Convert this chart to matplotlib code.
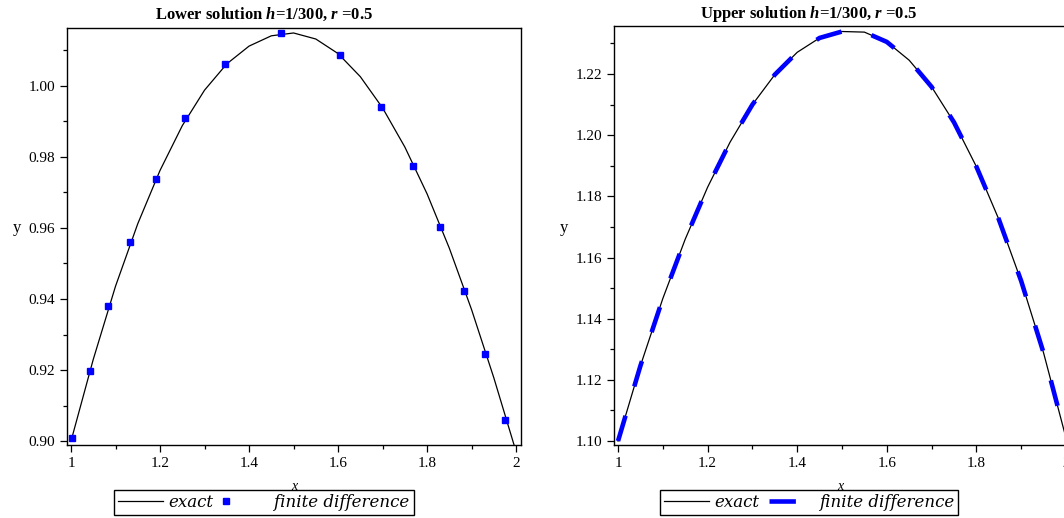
import matplotlib
matplotlib.use('Agg')
import matplotlib.pyplot as plt
from matplotlib.ticker import MultipleLocator, FormatStrFormatter

plt.rcParams['font.family'] = ['Liberation Serif', 'DejaVu Serif']
plt.rcParams['lines.scale_dashes'] = False
plt.rcParams['mathtext.fontset'] = 'custom'
plt.rcParams['mathtext.it'] = 'Liberation Serif:italic:bold'
plt.rcParams['mathtext.rm'] = 'Liberation Serif:bold'

# exact curves, x = 1.00 .. 2.00 step 0.05
x_exact = [1.00, 1.05, 1.10, 1.15, 1.20, 1.25, 1.30, 1.35, 1.40, 1.45, 1.50,
           1.55, 1.60, 1.65, 1.70, 1.75, 1.80, 1.85, 1.90, 1.95, 2.00]
lower_exact = [0.9000, 0.9230, 0.9436, 0.9612, 0.9762, 0.9888, 0.9988, 1.0062,
               1.0112, 1.0141, 1.0149, 1.0132, 1.0091, 1.0026, 0.9938, 0.9828,
               0.9696, 0.9543, 0.9370, 0.9178, 0.8970]
upper_exact = [1.1000, 1.1246, 1.1466, 1.1660, 1.1830, 1.1977, 1.2100, 1.2198,
               1.2271, 1.2318, 1.2339, 1.2337, 1.2305, 1.2245, 1.2158, 1.2042,
               1.1897, 1.1725, 1.1523, 1.1288, 1.1010]

# finite difference, lower solution (sampled points)
x_fd_lower = [1.002, 1.042, 1.084, 1.133, 1.191, 1.256, 1.347, 1.471,
              1.604, 1.696, 1.769, 1.829, 1.882, 1.931, 1.976]
y_fd_lower = [0.9010, 0.9197, 0.9380, 0.9560, 0.9738, 0.9910, 1.0062, 1.0149,
              1.0087, 0.9940, 0.9775, 0.9603, 0.9423, 0.9245, 0.9059]

# finite difference, upper solution (lies on top of the exact curve)
x_fd_upper = x_exact
y_fd_upper = upper_exact

fig = plt.figure(figsize=(10.64, 5.18), dpi=100)
ax1 = fig.add_axes([67/1064, 73/518, 454/1064, 417/518])
ax2 = fig.add_axes([614/1064, 73/518, 452/1064, 419/518])

ax1.plot(x_exact, lower_exact, color='black', lw=0.9, label='exact')
ax1.plot(x_fd_lower, y_fd_lower, ls='none', marker='s', ms=5, color='#0000ff',
         label='    finite difference')
ax1.set_xlim(0.991, 2.011)
ax1.set_ylim(0.8989, 1.0163)

ax2.plot(x_exact, upper_exact, color='black', lw=0.9, label='exact')
ax2.plot(x_fd_upper, y_fd_upper, color='#0000ff', lw=3.3, dashes=(19, 22),
         label='finite difference')
ax2.set_xlim(0.991, 2.0)
ax2.set_ylim(1.0987, 1.2357)

titles = ['Lower solution $h$=1/300, $r$ =0.5',
          'Upper solution $h$=1/300, $r$ =0.5']
centers = [264/1064, 809/1064]
colspace = [-0.6, 0.6]

for ax, title, cx, cs in zip([ax1, ax2], titles, centers, colspace):
    ax.yaxis.set_major_locator(MultipleLocator(0.02))
    ax.yaxis.set_minor_locator(MultipleLocator(0.01))
    ax.yaxis.set_major_formatter(FormatStrFormatter('%.2f'))
    ax.xaxis.set_major_locator(MultipleLocator(0.2))
    ax.xaxis.set_minor_locator(MultipleLocator(0.1))
    ax.xaxis.set_major_formatter(plt.FuncFormatter(lambda v, p: '%g' % round(v, 2)))
    ax.tick_params(which='major', length=5, width=0.9, labelsize=11, direction='out')
    ax.tick_params(which='minor', length=3, width=0.9, direction='out')
    for s in ax.spines.values():
        s.set_linewidth(1.0)
    ax.set_xlabel('x', style='italic', fontsize=10, labelpad=7)
    ax.set_ylabel('y', rotation=0, fontsize=12, labelpad=8)
    fig.text(cx, 0.973, title, ha='center', va='center', fontsize=12,
             fontweight='bold')
    fig.legend(*ax.get_legend_handles_labels(), loc='center', ncol=2,
               bbox_to_anchor=(cx, 0.03), frameon=True, fancybox=False,
               edgecolor='black', framealpha=1,
               prop={'family': 'DejaVu Serif', 'style': 'italic', 'size': 12},
               handlelength=2.7, columnspacing=cs, handletextpad=0.3,
               borderpad=0.25, borderaxespad=0)

fig.savefig('out.png', dpi=100)
